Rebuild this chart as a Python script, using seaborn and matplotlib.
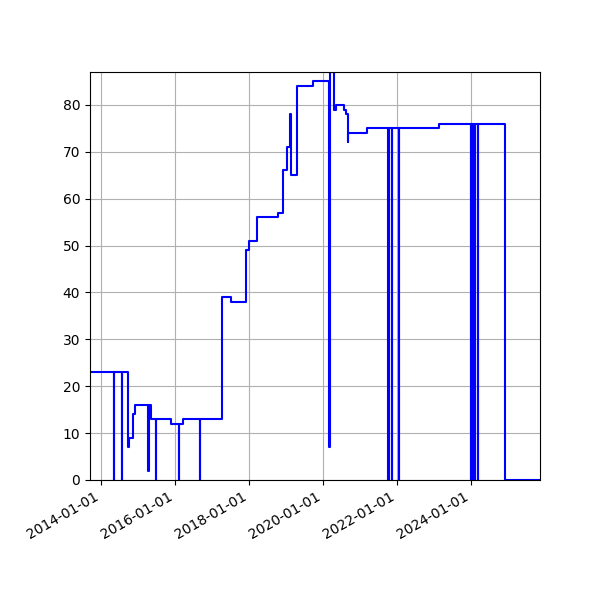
import pandas as pd
import matplotlib
matplotlib.use("Agg")
import matplotlib.pyplot as plt
import matplotlib.dates as mdates
import seaborn as sns

# Fechas de cambio y valor desde cada fecha (escalones)
fechas = [
    "2013-09-15", "2014-05-09", "2014-05-12", "2014-07-27", "2014-07-30",
    "2014-09-22", "2014-10-08", "2014-11-16", "2014-12-03", "2015-04-13",
    "2015-04-16", "2015-05-10", "2015-06-25", "2015-06-28", "2015-11-20",
    "2016-02-12", "2016-02-15", "2016-03-23", "2016-09-04", "2016-09-07",
    "2017-04-15", "2017-07-08", "2017-11-30", "2018-01-02", "2018-03-25",
    "2018-10-16", "2018-12-07", "2019-01-15", "2019-02-11", "2019-02-21",
    "2019-04-18", "2019-09-26", "2020-03-06", "2020-03-16", "2020-04-18",
    "2020-05-10", "2020-07-31", "2020-08-17", "2020-09-03", "2020-09-07",
    "2021-03-10", "2021-10-09", "2021-10-12", "2021-11-12", "2021-11-15",
    "2022-01-23", "2022-01-26", "2023-02-19", "2024-01-01", "2024-01-04",
    "2024-01-11", "2024-01-14", "2024-01-21", "2024-01-24", "2024-01-31",
    "2024-02-03", "2024-02-09", "2024-02-12", "2024-03-10", "2024-03-13",
    "2024-12-05", "2025-11-16",
]
valores = [
    23, 0, 23, 0, 23,
    7, 9, 14, 16, 2,
    16, 13, 0, 13, 12,
    0, 12, 13, 0, 13,
    39, 38, 49, 51, 56,
    57, 66, 71, 78, 65,
    84, 85, 7, 87, 79,
    80, 79, 78, 72, 74,
    75, 0, 75, 0, 75,
    0, 75, 76, 0, 76,
    0, 76, 0, 76, 0,
    76, 0, 76, 0, 76,
    0, 0,
]

fechas = pd.to_datetime(fechas)

fig, ax = plt.subplots(figsize=(6, 6), dpi=100)
sns.lineplot(x=fechas, y=valores, ax=ax, color="blue", linewidth=1.5,
             drawstyle="steps-post", estimator=None, sort=False)
ax.margins(0)
ax.set_ylim(0, max(valores))
ax.xaxis.set_major_locator(mdates.YearLocator(2))
ax.xaxis.set_major_formatter(mdates.DateFormatter("%Y-%m-%d"))
ax.grid(True)
ax.set_xlabel("")
ax.set_ylabel("")
fig.autofmt_xdate()
fig.subplots_adjust(left=0.15, right=0.9, top=0.88, bottom=0.2)
plt.savefig("out.png")
plt.close()
